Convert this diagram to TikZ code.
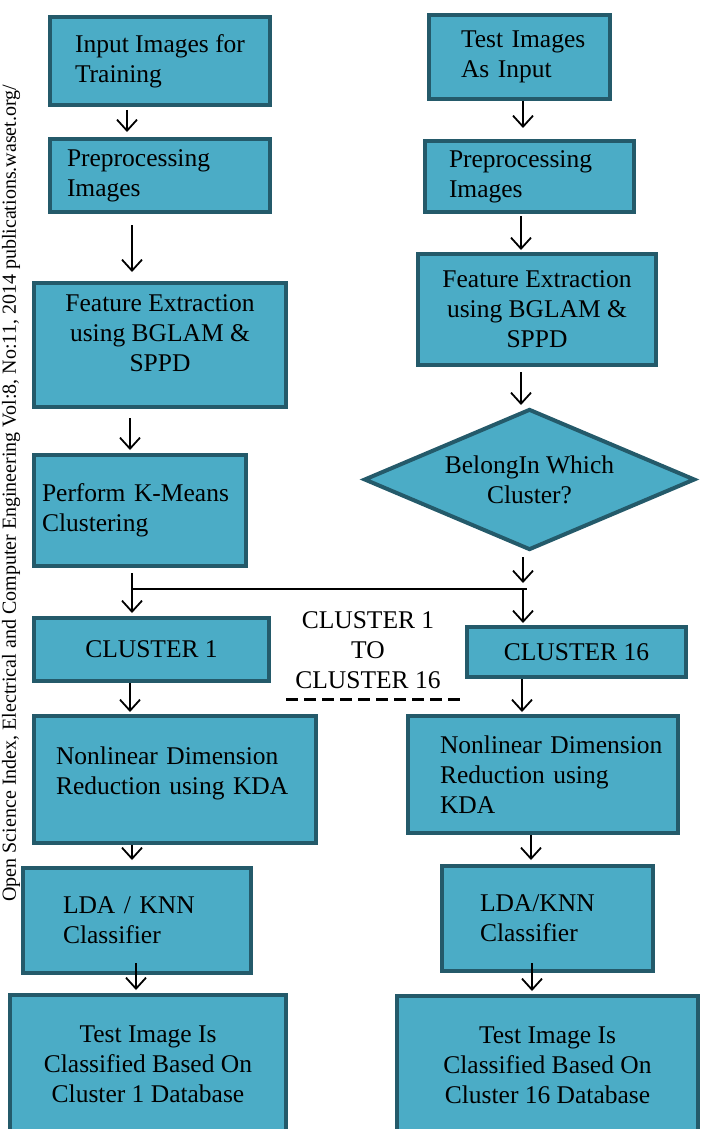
\documentclass[tikz,border=0pt]{standalone}
\usepackage{fontspec}
\setmainfont{Liberation Serif}
\usetikzlibrary{shapes.geometric,arrows.meta}
\definecolor{boxfill}{RGB}{75,172,198}
\definecolor{boxline}{RGB}{36,90,106}

\begin{document}
\begin{tikzpicture}[x=1pt,y=-1pt,
  txt/.style={font=\fontsize{25.5}{30}\selectfont},
  blk/.style={txt,draw=boxline,fill=boxfill,line width=4pt,inner sep=0pt},
  lft/.style={align=left,text width=#1},
  ctr/.style={align=center},
  dec/.style={blk,diamond,aspect=2.35},
  arr/.style={line width=1.8pt,-{Straight Barb[length=11pt,width=20pt,line width=1.8pt]}}]
\useasboundingbox (0,0) rectangle (707,1129);
% page margin note
\node[rotate=90,anchor=base west,font=\fontsize{20}{24}\selectfont] (wm) at (16,905)
   {Open Science Index, Electrical and Computer Engineering Vol:8, No:11, 2014 publications.waset.org/};
% training side
\node[blk,align=left,minimum width=220pt,minimum height=88pt] (inL) at (160,61) {Input Images for\\Training};
\node[blk,lft=186pt,minimum width=220pt,minimum height=73pt] (ppL) at (160,175.5) {Preprocessing\\Images};
\node[blk,ctr,text depth=23pt,minimum width=252pt,minimum height=124pt] (feL) at (160,345) {Feature Extraction\\using BGLAM \&\\SPPD};
\node[blk,lft=196pt,minimum width=212pt,minimum height=111pt] (kmL) at (140,510.5) {Perform K-Means\\Clustering};
\node[blk,ctr,minimum width=235pt,minimum height=63pt] (c1) at (151.5,649.5) {CLUSTER 1};
\node[blk,lft=238pt,text depth=48pt,minimum width=282pt,minimum height=127pt] (ndL) at (175,779.5) {Nonlinear Dimension\\Reduction using KDA};
\node[blk,lft=148pt,minimum width=228pt,minimum height=105pt] (ldL) at (137,920.5) {LDA / KNN\\Classifier};
\node[blk,ctr,minimum width=276pt,minimum height=138pt] (tsL) at (148,1064) {Test Image Is\\Classified Based On\\Cluster 1 Database};
% test side
\node[blk,lft=117pt,minimum width=181pt,minimum height=84pt] (inR) at (519.5,57) {\mbox{Test Images}\\As Input};
\node[blk,lft=161pt,minimum width=209pt,minimum height=71pt] (ppR) at (529.5,176.5) {Preprocessing\\Images};
\node[blk,ctr,minimum width=238pt,minimum height=111pt] (feR) at (537,309.5) {Feature Extraction\\using BGLAM \&\\SPPD};
\node[dec,ctr,minimum width=331pt,minimum height=141pt] (bel) at (529.5,479.5) {BelongIn Which\\Cluster?};
\node[blk,ctr,minimum width=219pt,minimum height=50pt] (c16) at (576.5,652) {CLUSTER 16};
\node[blk,lft=206pt,minimum width=270pt,minimum height=117pt] (ndR) at (543,774.5) {\mbox{Nonlinear Dimension}\\Reduction using\\KDA};
\node[blk,lft=135pt,minimum width=211pt,minimum height=105pt] (ldR) at (547.5,918.5) {LDA/KNN\\Classifier};
\node[blk,ctr,minimum width=301pt,minimum height=138pt] (tsR) at (547.5,1065) {Test Image Is\\Classified Based On\\Cluster 16 Database};
% range label
\node[txt,ctr,inner sep=0pt] (rng) at (368,650) {CLUSTER 1\\TO\\CLUSTER 16};
\draw[line width=3pt,dash pattern=on 12pt off 6pt] (286,699) -- (461,699);
% connectors
\coordinate (split) at (132,589);
\coordinate (join) at (523,589);
\draw[arr,shorten <=3pt,shorten >=5pt] ([xshift=-33]inL.south) -- ([xshift=-33]ppL.north);
\draw[arr,shorten <=11pt,shorten >=9pt] ([xshift=-28]ppL.south) -- ([xshift=-28]feL.north);
\draw[arr,shorten <=9pt,shorten >=3pt] ([xshift=-30]feL.south) -- ([xshift=-10]kmL.north);
\draw[arr,shorten <=5pt,shorten >=3pt] (kmL.south -| split) -- (c1.north -| split);
\draw[line width=1.5pt] (split) -- ([xshift=4]join);
\draw[arr,shorten <=5pt,shorten >=6pt] (bel.south -| join) -- (join);
\draw[arr,shorten >=2pt] (join) -- (c16.north -| join);
\draw[arr,shorten >=2pt] ([xshift=-21.5]c1.south) -- ([xshift=-45]ndL.north);
\draw[arr,shorten >=6pt] ([xshift=-43]ndL.south) -- ([xshift=-5]ldL.north);
\draw[arr,shorten <=-12pt,shorten >=3pt] ([xshift=-1]ldL.south) -- ([xshift=-12]tsL.north);
\draw[arr,shorten >=11pt] ([xshift=3.5]inR.south) -- ([xshift=-6.5]ppR.north);
\draw[arr,shorten <=2pt,shorten >=2pt] ([xshift=-8.5]ppR.south) -- ([xshift=-16]feR.north);
\draw[arr,shorten <=5pt,shorten >=2pt] ([xshift=-16]feR.south) -- ([xshift=-8.5]bel.north);
\draw[arr,shorten >=2pt] ([xshift=-54.5]c16.south) -- ([xshift=-21]ndR.north);
\draw[arr,shorten >=4pt] ([xshift=-12]ndR.south) -- ([xshift=-16.5]ldR.north);
\draw[arr,shorten <=-10pt,shorten >=3pt] ([xshift=-15.5]ldR.south) -- ([xshift=-15.5]tsR.north);
\end{tikzpicture}
\end{document}
